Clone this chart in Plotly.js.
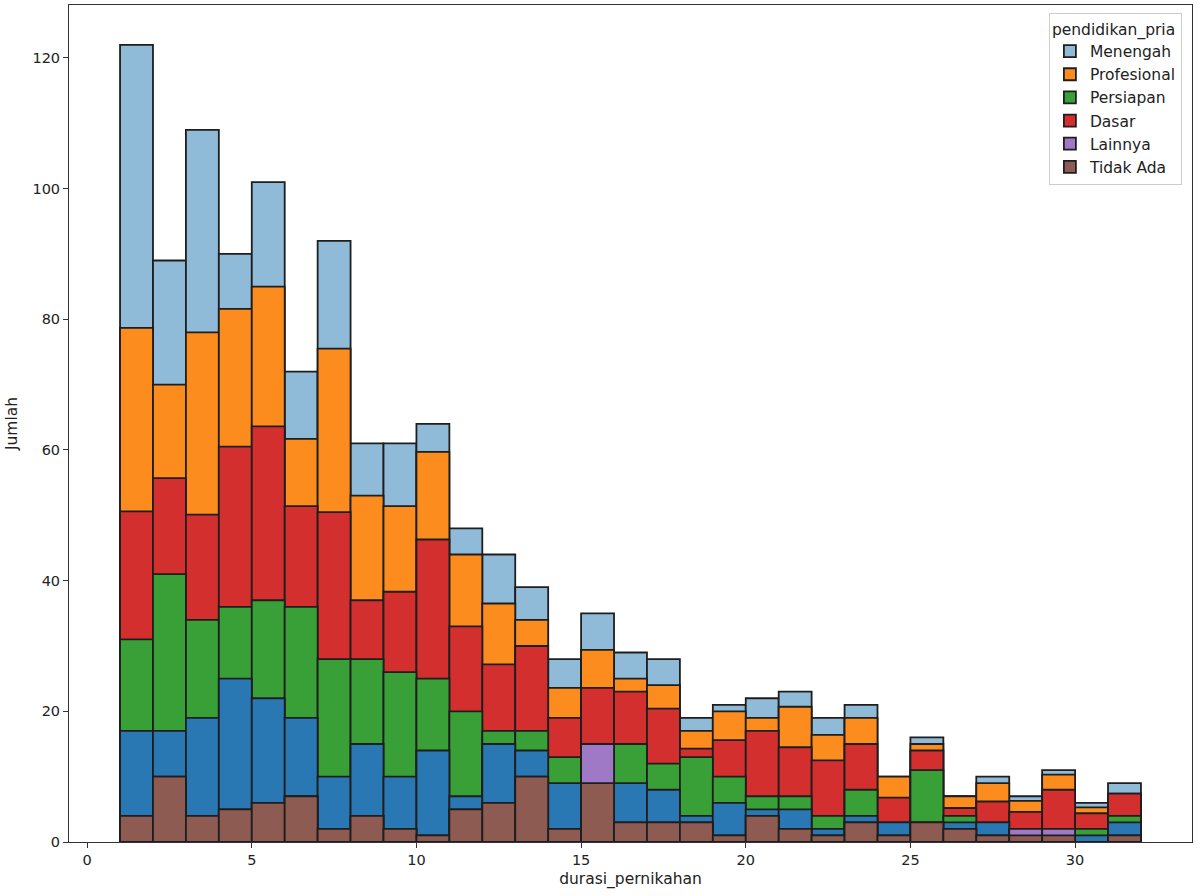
<!DOCTYPE html>
<html>
<head>
<meta charset="utf-8">
<script src="https://cdn.plot.ly/plotly-3.0.1.min.js"></script>
<style>
  html, body { margin: 0; padding: 0; background: #ffffff; }
  #chart { width: 1200px; height: 896px; }
</style>
</head>
<body>
<div id="chart"></div>
<script>
// Bin left edges of durasi_pernikahan (bin width 1)
const binStart = [1,2,3,4,5,6,7,8,9,10,11,12,13,14,15,16,17,18,19,20,21,22,23,24,25,26,27,28,29,30,31];

// Visible top of each coloured layer per bin
const topMenengah    = [122,89,109,90,101,72,92,61,61,64,48,44,39,28,35,29,28,19,21,22,23,19,21,10,16,7,10,7,11,6,9];
const topProfesional = [78.7,70,78,81.6,85,61.7,75.5,53,51.4,59.7,44,36.5,34,23.6,29.4,25,24,17,20,19,20.7,16.4,19,10,15,7,9,6.3,10.3,5.3,7.4];
const topDasar       = [50.6,55.7,50.1,60.5,63.6,51.4,50.5,37,38.3,46.3,33,27.2,30,19,23.6,23,20.4,14.3,15.6,17,14.5,12.5,15,6.8,14,5.2,6.2,4.6,8,4.4,7.4];
const topPersiapan   = [31,41,34,36,37,36,28,28,26,25,20,17,17,13,15,15,12,13,10,7,7,4,8,3,11,4,3,2,2,2,4];
const topBiruTua     = [17,17,19,25,22,19,10,15,10,14,7,15,14,9,15,9,8,4,6,5,5,2,4,3,3,3,3,2,2,1,3];
const topLainnya     = [4,10,4,5,6,7,2,4,2,1,5,6,10,2,15,3,3,3,1,4,2,1,3,1,3,2,1,2,2,0,1];
const topTidakAda    = [4,10,4,5,6,7,2,4,2,1,5,6,10,2,9,3,3,3,1,4,2,1,3,1,3,2,1,1,1,0,1];

const layers = [
  {name: 'Menengah',    y: topMenengah,    color: '#8fbbd9', rank: 1, show: true},
  {name: 'Profesional', y: topProfesional, color: '#fd8c1f', rank: 2, show: true},
  {name: 'Dasar',       y: topDasar,       color: '#d42f2f', rank: 4, show: true},
  {name: 'Persiapan',   y: topPersiapan,   color: '#38a037', rank: 3, show: true},
  {name: 'Menengah ',   y: topBiruTua,     color: '#2a78b3', rank: 7, show: false},
  {name: 'Lainnya',     y: topLainnya,     color: '#9f79c5', rank: 5, show: true},
  {name: 'Tidak Ada',   y: topTidakAda,    color: '#8d5b51', rank: 6, show: true}
];

const traces = layers.map(l => ({
  type: 'bar',
  name: l.name,
  x: binStart,
  y: l.y,
  width: 1,
  offset: 0,
  showlegend: l.show,
  legendrank: l.rank,
  marker: {color: l.color, line: {color: '#1e1e1e', width: 1.8}},
  hoverinfo: 'x+y+name'
}));

const FAM = 'DejaVu Sans, sans-serif';
const tickFont = {family: FAM, size: 14.5, color: '#222222'};
const titleFont = {family: FAM, size: 15.5, color: '#222222'};

const layout = {
  width: 1200,
  height: 896,
  margin: {l: 69, r: 8, t: 5, b: 54},
  paper_bgcolor: '#ffffff',
  plot_bgcolor: '#ffffff',
  barmode: 'overlay',
  bargap: 0,
  font: tickFont,
  showlegend: true,
  legend: {
    title: {text: 'pendidikan_pria', font: titleFont},
    font: titleFont,
    x: 0.991, xanchor: 'right', y: 0.99, yanchor: 'top',
    bgcolor: 'rgba(255,255,255,0.8)',
    bordercolor: '#cccccc', borderwidth: 1,
    traceorder: 'normal',
    itemwidth: 30,
    tracegroupgap: 0
  },
  xaxis: {
    range: [-0.55, 33.55],
    tickvals: [0, 5, 10, 15, 20, 25, 30],
    ticks: 'outside', ticklen: 5, tickwidth: 1, tickcolor: '#333',
    showgrid: false, zeroline: false,
    showline: true, linecolor: '#333', linewidth: 1, mirror: true,
    tickfont: tickFont,
    title: {text: 'durasi_pernikahan', font: titleFont, standoff: 5}
  },
  yaxis: {
    range: [0, 128.1],
    tickvals: [0, 20, 40, 60, 80, 100, 120],
    ticks: 'outside', ticklen: 5, tickwidth: 1, tickcolor: '#333',
    showgrid: false, zeroline: false,
    showline: true, linecolor: '#333', linewidth: 1, mirror: true,
    tickfont: tickFont,
    title: {text: 'Jumlah', font: titleFont, standoff: 10}
  }
};

Plotly.newPlot('chart', traces, layout, {displayModeBar: false, staticPlot: true});
</script>
</body>
</html>
